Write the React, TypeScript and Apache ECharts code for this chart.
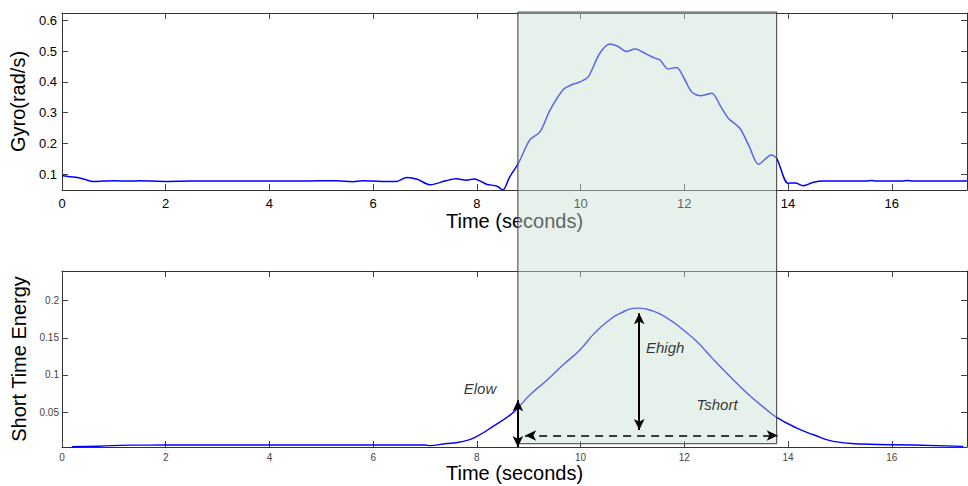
import React, { useEffect, useRef } from "react";
import * as echarts from "echarts";

// ---------- data ----------
const GYRO_T = [0, 0.15, 0.3, 0.45, 0.6, 0.8, 1.0, 1.3, 1.5, 2.0, 2.5, 3.0, 3.5, 4.0, 4.5, 5.0, 5.3, 5.6, 5.8, 6.0, 6.3, 6.45, 6.65, 6.85, 7.1, 7.4, 7.6, 7.8, 7.95, 8.1, 8.2, 8.38, 8.5, 8.63, 8.8, 9.02, 9.22, 9.41, 9.67, 9.85, 9.99, 10.15, 10.37, 10.57, 10.73, 10.88, 11.05, 11.27, 11.43, 11.53, 11.69, 11.85, 12.0, 12.14, 12.33, 12.53, 12.7, 12.85, 13.07, 13.25, 13.43, 13.68, 13.78, 14.0, 14.14, 14.29, 14.49, 14.68, 15.0, 15.5, 15.6, 15.7, 16.2, 16.3, 16.4, 17.45];
const GYRO_V = [0.095, 0.091, 0.089, 0.082, 0.076, 0.077, 0.078, 0.077, 0.078, 0.076, 0.077, 0.077, 0.077, 0.077, 0.077, 0.078, 0.078, 0.075, 0.078, 0.077, 0.076, 0.076, 0.089, 0.083, 0.065, 0.078, 0.085, 0.080, 0.084, 0.074, 0.066, 0.061, 0.048, 0.090, 0.135, 0.211, 0.238, 0.308, 0.376, 0.392, 0.400, 0.417, 0.493, 0.523, 0.514, 0.499, 0.507, 0.490, 0.477, 0.471, 0.442, 0.447, 0.410, 0.368, 0.355, 0.363, 0.320, 0.281, 0.249, 0.190, 0.132, 0.162, 0.151, 0.070, 0.071, 0.062, 0.073, 0.077, 0.077, 0.077, 0.079, 0.077, 0.077, 0.079, 0.077, 0.077];

const STE_T = [0.19, 0.7, 1.3, 2.0, 3.0, 4.0, 5.0, 6.0, 7.0, 7.1, 7.35, 7.74, 7.99, 8.32, 8.64, 8.77, 9.02, 9.35, 9.67, 9.99, 10.25, 10.5, 10.76, 11.11, 11.4, 11.66, 11.92, 12.24, 12.56, 12.88, 13.2, 13.52, 13.78, 14.17, 14.49, 14.87, 15.44, 16.4, 17.38];
const STE_V = [0.0034, 0.004, 0.0055, 0.0056, 0.0056, 0.0056, 0.0056, 0.0056, 0.0056, 0.0048, 0.007, 0.0105, 0.017, 0.031, 0.046, 0.054, 0.073, 0.093, 0.114, 0.134, 0.155, 0.171, 0.183, 0.190, 0.186, 0.177, 0.164, 0.145, 0.121, 0.098, 0.076, 0.057, 0.043, 0.0285, 0.0195, 0.0105, 0.007, 0.0056, 0.0038];

const X_TICKS = [0, 2, 4, 6, 8, 10, 12, 14, 16];
const GYRO_TICKS = [0.1, 0.2, 0.3, 0.4, 0.5, 0.6];
const STE_TICKS = [0.05, 0.1, 0.15, 0.2];

const X_RANGE = [0, 17.45];
const GYRO_RANGE = [0.048, 0.624];
const STE_RANGE = [0.003, 0.24];

const SHADE_T = [8.79, 13.78];
const SHADE_TOP_GYRO = 0.627;
const SHADE_BOTTOM_STE = 0.0074;

const ELOW_ARROW = [8.79, 0.0031, 0.066];
const EHIGH_ARROW = [11.13, 0.026, 0.183];
const TSHORT_ARROW = [8.93, 13.8, 0.0185];

const LABEL_NAMES = ["Elow", "Ehigh", "Tshort"];
const LABEL_POS = [
  [8.06, 0.0813],
  [11.63, 0.1364],
  [12.63, 0.0598],
];

const FONT = "'Liberation Sans', Arial, Helvetica, sans-serif";

function zip(t: number[], v: number[]) {
  return t.map((x, i) => [x, v[i]]);
}

export default function App() {
  const ref = useRef<HTMLDivElement>(null);

  useEffect(() => {
    if (!ref.current) return;
    const chart = echarts.init(ref.current, undefined, { renderer: "svg" });

    const axisLineStyle = { color: "#333", width: 1 };
    const tickStyle = { color: "#444", width: 1 };

    const xAxisBase = (grid: number, pos: "bottom" | "top", labels: boolean, big: boolean) => ({
      type: "value",
      gridIndex: grid,
      position: pos,
      min: X_RANGE[0],
      max: X_RANGE[1],
      splitLine: { show: false },
      axisLine: { show: true, onZero: false, lineStyle: axisLineStyle },
      axisTick: { show: true, inside: true, length: 6, customValues: X_TICKS, lineStyle: tickStyle },
      axisLabel: {
        show: labels,
        customValues: X_TICKS,
        fontFamily: FONT,
        fontSize: big ? 13 : 10,
        color: big ? "#000" : "#444",
        margin: big ? 7 : 5,
      },
      name: labels ? "Time (seconds)" : "",
      nameLocation: "middle",
      nameGap: big ? 20 : 12,
      nameTextStyle: { fontFamily: FONT, fontSize: 20, color: "#000" },
    });

    const yAxisBase = (
      grid: number,
      pos: "left" | "right",
      labels: boolean,
      range: number[],
      ticks: number[],
      big: boolean,
      name: string,
      gap: number
    ) => ({
      type: "value",
      gridIndex: grid,
      position: pos,
      min: range[0],
      max: range[1],
      splitLine: { show: false },
      axisLine: { show: true, onZero: false, lineStyle: axisLineStyle },
      axisTick: { show: true, inside: true, length: 6, customValues: ticks, lineStyle: tickStyle },
      axisLabel: {
        show: labels,
        customValues: ticks,
        fontFamily: FONT,
        fontSize: big ? 13 : 10,
        color: big ? "#000" : "#444",
        margin: big ? 5 : 3,
      },
      name: labels ? name : "",
      nameLocation: "middle",
      nameGap: gap,
      nameTextStyle: { fontFamily: FONT, fontSize: 20, color: "#000" },
    });

    const arrowLine = (a: number[], b: number[], type: any, color: string, width: number) => [
      { coord: a, lineStyle: { color, width, type } },
      { coord: b },
    ];

    chart.setOption({
      animation: false,
      backgroundColor: "#fff",
      textStyle: { fontFamily: FONT },
      grid: [
        { left: 62, top: 13, width: 905, height: 177, containLabel: false },
        { left: 62, top: 271, width: 905, height: 176, containLabel: false },
      ],
      xAxis: [
        xAxisBase(0, "bottom", true, true),
        xAxisBase(0, "top", false, true),
        xAxisBase(1, "bottom", true, false),
        xAxisBase(1, "top", false, false),
      ],
      yAxis: [
        yAxisBase(0, "left", true, GYRO_RANGE, GYRO_TICKS, true, "Gyro(rad/s)", 27),
        yAxisBase(0, "right", false, GYRO_RANGE, GYRO_TICKS, true, "", 0),
        yAxisBase(1, "left", true, STE_RANGE, STE_TICKS, false, "Short Time Energy", 24),
        yAxisBase(1, "right", false, STE_RANGE, STE_TICKS, false, "", 0),
      ],
      series: [
        {
          type: "line",
          xAxisIndex: 0,
          yAxisIndex: 0,
          data: zip(GYRO_T, GYRO_V),
          showSymbol: false,
          smooth: 0.3,
          lineStyle: { color: "#0000ff", width: 1.5 },
          z: 2,
        },
        {
          type: "line",
          xAxisIndex: 2,
          yAxisIndex: 2,
          data: zip(STE_T, STE_V),
          showSymbol: false,
          smooth: 0.5,
          lineStyle: { color: "#0000ff", width: 1.4 },
          z: 2,
        },
        {
          type: "scatter",
          xAxisIndex: 2,
          yAxisIndex: 2,
          z: 200,
          symbolSize: 0,
          data: LABEL_NAMES.map((n, i) => ({ name: n, value: LABEL_POS[i] })),
          label: {
            show: true,
            position: "inside",
            formatter: "{b}",
            fontFamily: FONT,
            fontStyle: "italic",
            fontSize: 15,
            color: "#000",
          },
          markLine: {
            silent: true,
            z: 200,
            symbol: ["arrow", "arrow"],
            symbolSize: [8, 11],
            label: { show: false },
            data: [
              arrowLine([ELOW_ARROW[0], ELOW_ARROW[1]], [ELOW_ARROW[0], ELOW_ARROW[2]], "solid", "#000", 2),
              arrowLine([EHIGH_ARROW[0], EHIGH_ARROW[1]], [EHIGH_ARROW[0], EHIGH_ARROW[2]], "solid", "#000", 2),
              arrowLine([TSHORT_ARROW[0], TSHORT_ARROW[2]], [TSHORT_ARROW[1], TSHORT_ARROW[2]], [8, 6], "#000", 1.5),
            ],
          },
        },
      ],
    });

    const x1 = chart.convertToPixel({ xAxisIndex: 0 }, SHADE_T[0]) as number;
    const x2 = chart.convertToPixel({ xAxisIndex: 0 }, SHADE_T[1]) as number;
    const y1 = chart.convertToPixel({ yAxisIndex: 0 }, SHADE_TOP_GYRO) as number;
    const y2 = chart.convertToPixel({ yAxisIndex: 2 }, SHADE_BOTTOM_STE) as number;

    chart.setOption({
      graphic: [
        {
          type: "rect",
          z: 50,
          silent: true,
          shape: { x: x1, y: y1, width: x2 - x1, height: y2 - y1 },
          style: { fill: "rgba(200,225,210,0.45)", stroke: "#3a3a3a", lineWidth: 1 },
        },
      ],
    });

    return () => chart.dispose();
  }, []);

  return (
    <div
      ref={ref}
      style={{ position: "fixed", left: 0, top: 0, width: 968, height: 486, background: "#fff" }}
    />
  );
}
